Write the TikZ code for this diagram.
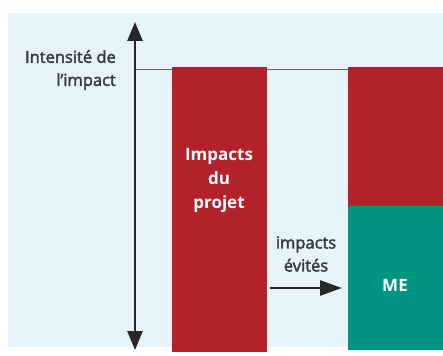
\documentclass[tikz,border=0pt]{standalone}
\usepackage{fontspec}
\setmainfont{Open Sans}
\newfontfamily\labelfont{Open Sans}[FakeBold=2.5]
\usetikzlibrary{arrows.meta}
\definecolor{impactred}{HTML}{B3212A}
\definecolor{megreen}{HTML}{009480}
\definecolor{skyback}{HTML}{E7F4FB}
\definecolor{labelgray}{HTML}{383D41}
\tikzset{
  axisarrow/.style={{Triangle[length=19pt,width=15pt]}-{Triangle[length=19pt,width=15pt]},line width=2.6pt,draw=black!85},
  shiftarrow/.style={-{Triangle[length=22pt,width=15pt]},line width=2.6pt,draw=black!85},
  graylabel/.style={text=labelgray,font=\labelfont\fontsize{16.5}{23}\selectfont,align=right,inner sep=0pt},
  barlabel/.style={text=white,font=\fontsize{17}{24}\selectfont\bfseries,align=center,inner sep=0pt},
}
\begin{document}
\begin{tikzpicture}[x=1pt,y=-1pt]
  \useasboundingbox (0,0) rectangle (443,355);
  % Draw background
  \fill[skyback] (8,13) rectangle (443,347);
  % Draw reference line
  \draw[gray!80!black,line width=0.8pt] (135,69) -- (443,69);
  % Draw bars
  \fill[impactred] (172,67) rectangle (267,352);
  \fill[impactred] (348,67) rectangle (443,206);
  \fill[megreen]   (348,206) rectangle (443,350);
  % Draw axis
  \coordinate (axistop) at (135,22);
  \coordinate (axisbot) at (135,350);
  \draw[axisarrow] (axisbot) -- (axistop);
  \node (intensity) [graylabel,anchor=east] at (116,70)
        {Intensité de\\l’impact};
  % Draw labels
  \node (projet) [barlabel] at (219,180) {Impacts\\du\\projet};
  \node (me) [barlabel] at (395,285) {ME};
  \node (evites) [graylabel,align=center,anchor=center] at (306,254)
        {impacts\\évités};
  % Draw shift
  \coordinate (shiftstart) at (270,288);
  \coordinate (shiftend) at (342,288);
  \draw[shiftarrow] (shiftstart) -- (shiftend);
\end{tikzpicture}
\end{document}
